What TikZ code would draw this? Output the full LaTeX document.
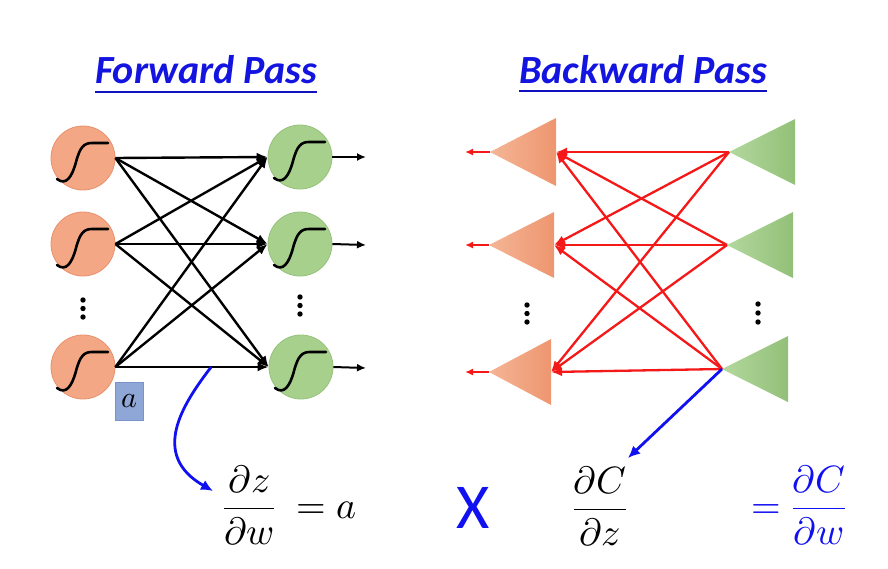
\documentclass[tikz,border=0pt]{standalone}
\usepackage{fontspec}
\usepackage{unicode-math}
\setmathfont{Latin Modern Math}
\newfontfamily\carlito{Carlito}
\usetikzlibrary{arrows.meta,calc}
\definecolor{orgfill}{HTML}{F4A784}
\definecolor{orgdraw}{HTML}{E8916C}
\definecolor{grnfill}{HTML}{A8D08D}
\definecolor{grndraw}{HTML}{96C27B}
\definecolor{orgL}{HTML}{F4B595}
\definecolor{orgR}{HTML}{EE9670}
\definecolor{grnL}{HTML}{B3D89E}
\definecolor{grnR}{HTML}{93C078}
\definecolor{ttlblue}{HTML}{1414E0}
\definecolor{arrblue}{HTML}{1010F0}
\definecolor{bred}{HTML}{F41818}
\definecolor{abox}{HTML}{8FA7D7}
\definecolor{aboxdraw}{HTML}{7A93C8}
\tikzset{
  neuron/.style={circle,minimum size=64pt,inner sep=0pt,line width=0.8pt},
  orgn/.style={neuron,fill=orgfill,draw=orgdraw},
  grnn/.style={neuron,fill=grnfill,draw=grndraw},
  sigline/.style={line width=2.6pt,black,line cap=round},
  fwd/.style={line width=2.4pt,black,-{Latex[length=11pt,width=9pt]}},
  outarr/.style={line width=2pt,black,-{Latex[length=9pt,width=8pt]}},
  bwd/.style={line width=2.3pt,bred,-{Latex[length=11pt,width=9pt]}},
  bout/.style={line width=2pt,bred,-{Latex[length=8pt,width=7pt]}},
  blueArr/.style={line width=2.8pt,arrblue,-{Latex[length=12pt,width=11pt]}},
  ttl/.style={inner sep=0pt,text=ttlblue,font=\carlito\fontsize{40}{46}\selectfont\bfseries\itshape},
  uline/.style={line width=2.4pt,ttlblue!85!black},
  dotm/.style={fill=black},
  formula/.style={inner sep=0pt,font=\fontsize{38}{44}\selectfont},
  pics/sigm/.style={code={
    \draw[sigline] (-26,21) .. controls (-17,28) and (-11,19) .. (-7,4)
      .. controls (-3,-11) and (1,-15) .. (9,-15) -- (25,-15);}}
}
\begin{document}
\begin{tikzpicture}[x=1pt,y=-1pt]
\useasboundingbox (0,0) rectangle (888,568);
% ---------- titles
\node[ttl,anchor=base west] (fw) at (95,83) {Forward Pass};
\draw[uline] ([yshift=-9pt]fw.base west) -- ([yshift=-9pt]fw.base east);
\node[ttl,anchor=base west] (bw) at (519,83) {Backward Pass};
\draw[uline] ([yshift=-8pt]bw.base west) -- ([yshift=-8pt]bw.base east);

% ---------- forward pass network
\node[orgn] (o1) at (83,158) {};
\node[orgn] (o2) at (83,244) {};
\node[orgn] (o3) at (83,367) {};
\node[grnn] (g1) at (300,157) {};
\node[grnn] (g2) at (300,244) {};
\node[grnn] (g3) at (301,367) {};
\foreach \n in {o1,o2,o3,g1,g2,g3} {\pic at (\n) {sigm};}
\foreach \i in {1,2,3} {
  \foreach \j in {1,2,3} {
    \draw[fwd] (o\i.east) -- (g\j.west);
  }
}
\coordinate (out1) at (366,157);
\coordinate (out2) at (366,245);
\coordinate (out3) at (366,368);
\foreach \j in {1,2,3} {\draw[outarr] (g\j.east) -- (out\j);}
\foreach \y in {300,308.5,317} {\fill[dotm] (83,\y) circle (2.7);}
\foreach \y in {297,305.5,314} {\fill[dotm] (300,\y) circle (2.7);}

% a box
\node[fill=abox,draw=aboxdraw,line width=0.6pt,minimum width=28pt,minimum height=38pt,inner sep=0pt,
      font=\fontsize{30}{34}\selectfont] (abx) at (129,401) {$a$};

% ---------- backward pass network
\coordinate (ta1) at (490,152);
\coordinate (ta2) at (489,245);
\coordinate (ta3) at (489,372);
\coordinate (tr1) at (556,152);
\coordinate (tr2) at (554,245);
\coordinate (tr3) at (551,372);
\foreach \i/\h in {1/34,2/33,3/33} {
  \shade[left color=orgL,right color=orgR] (ta\i) -- ($(tr\i)+(0,-\h)$) -- ($(tr\i)+(0,\h)$) -- cycle;
}
\coordinate (ga1) at (729,152);
\coordinate (ga2) at (727,245);
\coordinate (ga3) at (722,369);
\coordinate (gr1) at (795,152);
\coordinate (gr2) at (793,245);
\coordinate (gr3) at (788,369);
\foreach \i in {1,2,3} {
  \shade[left color=grnL,right color=grnR] (ga\i) -- ($(gr\i)+(0,-33)$) -- ($(gr\i)+(0,33)$) -- cycle;
}
\foreach \j in {1,2,3} {
  \foreach \i in {1,2,3} {
    \draw[bwd] (ga\j) -- (tr\i);
  }
}
\coordinate (bo1) at (465,152);
\coordinate (bo2) at (465,245);
\coordinate (bo3) at (465,372);
\foreach \i in {1,2,3} {\draw[bout] (ta\i) -- (bo\i);}
\foreach \y in {305,313.5,322} {\fill[dotm] (527,\y) circle (2.7);}
\foreach \y in {304,313,322} {\fill[dotm] (758,\y) circle (2.7);}

% ---------- formulas
\node[formula,anchor=west] (f1) at (223,505) {$\displaystyle\frac{\partial z}{\partial w}\;= a$};
\node[inner sep=0pt,text=arrblue,font=\carlito\fontsize{64}{70}\selectfont] (xx) at (473,508) {X};
\node[formula] (f2) at (600,506) {$\displaystyle\frac{\partial C}{\partial z}$};
\node[formula,text=arrblue,anchor=west] (f3) at (751,505) {$\displaystyle=\frac{\partial C}{\partial w}$};

% ---------- blue arrows
\coordinate (fs) at ($(o3.east)!0.625!(g3.west)$);
\coordinate (fe) at (213,491);
\draw[blueArr] (fs) .. controls (182,405) and (150,455) .. (fe);
\coordinate (be) at (628,458);
\draw[blueArr] (ga3) -- (be);
\end{tikzpicture}
\end{document}
